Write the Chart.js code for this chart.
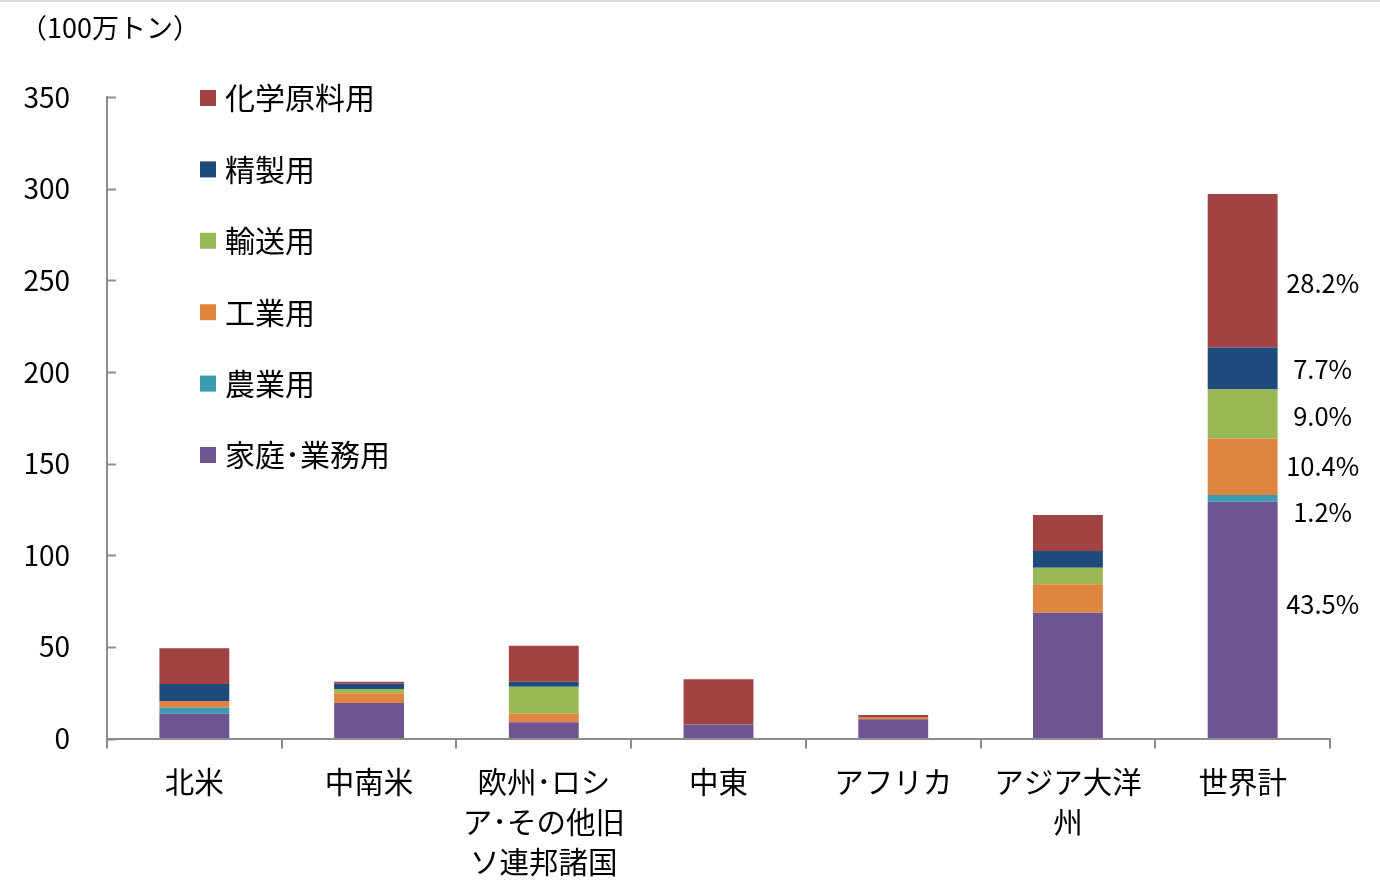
<!DOCTYPE html>
<html lang="ja">
<head>
<meta charset="utf-8">
<title>LPG用途別需要</title>
<script src="https://cdn.jsdelivr.net/npm/chart.js@4.4.1/dist/chart.umd.min.js"></script>
<style>
  html, body { margin: 0; padding: 0; background: #fff; }
  #wrap { position: relative; width: 1380px; height: 890px; }
  #wrap::before { content: ''; position: absolute; left: 0; right: 0; top: 0; height: 2px; background: #dcdcdc; }
</style>
</head>
<body>
<div id="wrap"><canvas id="myChart" width="1380" height="890"></canvas></div>
<script>
// 地域別・用途別 LPG 需要（100万トン）
const categories = ['北米', '中南米', ['欧州･ロシ', 'ア･その他旧', 'ソ連邦諸国'], '中東', 'アフリカ', ['アジア大洋', '州'], '世界計'];
const seriesNames = ['家庭･業務用', '農業用', '工業用', '輸送用', '精製用', '化学原料用'];
const household = [13.5, 19.4, 8.8, 7.7, 10.5, 68.6, 129.2];
const agriculture = [3.3, 0, 0, 0, 0, 0, 3.6];
const industry = [3.7, 5.3, 4.9, 0, 1.2, 15.5, 30.9];
const transport = [0, 2.3, 14.6, 0, 0, 9.1, 26.7];
const refinery = [9.2, 2.9, 2.7, 0, 0, 9.1, 22.9];
const chemical = [19.5, 1.1, 19.6, 24.6, 1.1, 19.6, 83.8];
const worldShares = ['43.5%', '1.2%', '10.4%', '9.0%', '7.7%', '28.2%'];
const yTicks = [0, 50, 100, 150, 200, 250, 300, 350];
const unitLabel = '（100万トン）';

const colors = ['#6e5592', '#3a9caf', '#de8640', '#98b956', '#1e4a7c', '#a24343'];
const shareNudge = [-16, 14, 0, 2, 1, 13];
const fontFamily = "'Noto Sans CJK JP', 'Noto Sans', sans-serif";
const axisColor = '#8c8c8c';

const extras = {
    id: 'extras',
    afterDraw: function (chart) {
        const ctx = chart.ctx;
        const area = chart.chartArea;
        const yScale = chart.scales.y;
        ctx.save();

        // inward tick marks on the y axis
        ctx.strokeStyle = axisColor;
        ctx.lineWidth = 2;
        yTicks.forEach(function (v) {
            const y = Math.round(yScale.getPixelForValue(v)) + 0.5;
            ctx.beginPath();
            ctx.moveTo(area.left, y);
            ctx.lineTo(area.left + 9, y);
            ctx.stroke();
        });

        // unit label
        ctx.fillStyle = '#000';
        ctx.textBaseline = 'middle';
        ctx.textAlign = 'left';
        ctx.font = '27px ' + fontFamily;
        ctx.fillText(unitLabel, 20, 28);

        // legend (top item = last dataset)
        ctx.font = '30px ' + fontFamily;
        for (let i = seriesNames.length - 1, row = 0; i >= 0; i--, row++) {
            const y = 98 + row * 71.4;
            ctx.fillStyle = colors[i];
            ctx.fillRect(200, y - 8, 16, 16);
            ctx.fillStyle = '#000';
            ctx.fillText(seriesNames[i], 225, y);
        }

        // share labels next to the world bar
        ctx.font = '25.5px ' + fontFamily;
        ctx.textAlign = 'center';
        const last = categories.length - 1;
        chart.data.datasets.forEach(function (ds, i) {
            const el = chart.getDatasetMeta(i).data[last];
            const y = (el.y + el.base) / 2 + shareNudge[i];
            ctx.fillText(worldShares[i], el.x + 80, y);
        });
        ctx.restore();
    }
};

const seriesValues = [household, agriculture, industry, transport, refinery, chemical];

new Chart(document.getElementById('myChart').getContext('2d'), {
    type: 'bar',
    data: {
        labels: categories,
        datasets: seriesValues.map(function (vals, i) {
            return {
                label: seriesNames[i],
                data: vals,
                backgroundColor: colors[i],
                borderWidth: 0,
                categoryPercentage: 1.0,
                barPercentage: 0.4
            };
        })
    },
    options: {
        responsive: false,
        animation: false,
        layout: { padding: { left: 0, right: 50, top: 97, bottom: 0 } },
        plugins: {
            legend: { display: false },
            tooltip: { enabled: false }
        },
        scales: {
            x: {
                stacked: true,
                offset: true,
                grid: {
                    offset: true,
                    drawOnChartArea: false,
                    drawTicks: true,
                    tickLength: 10,
                    color: axisColor,
                    lineWidth: 2
                },
                border: { color: axisColor, width: 2 },
                ticks: {
                    color: '#000',
                    padding: 13,
                    maxRotation: 0,
                    autoSkip: false,
                    font: { family: fontFamily, size: 29.5, lineHeight: 1.36 }
                },
                afterFit: function (scale) { scale.height = 151.5; }
            },
            y: {
                stacked: true,
                min: 0,
                max: 350,
                grid: { drawOnChartArea: false, drawTicks: false },
                border: { color: axisColor, width: 2 },
                ticks: {
                    color: '#000',
                    padding: 37,
                    font: { family: fontFamily, size: 28 }
                },
                afterBuildTicks: function (scale) {
                    scale.ticks = yTicks.map(function (v) { return { value: v }; });
                },
                afterFit: function (scale) { scale.width = 107; }
            }
        }
    },
    plugins: [extras]
});
</script>
</body>
</html>
